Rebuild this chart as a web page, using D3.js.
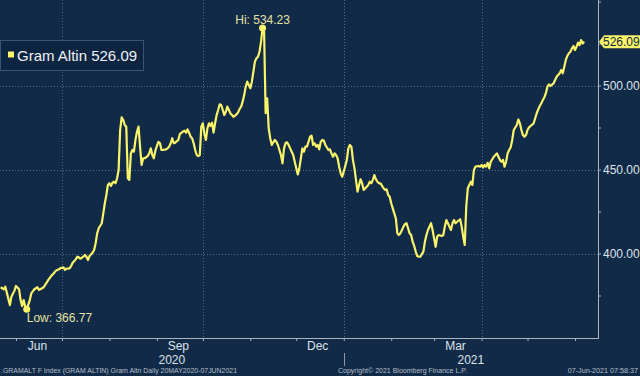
<!DOCTYPE html>
<html>
<head>
<meta charset="utf-8">
<script src="https://cdn.jsdelivr.net/npm/d3@7"></script>
<style>
  html, body { margin: 0; padding: 0; background: #112a47; }
  svg { display: block; font-family: "Liberation Sans", Arial, sans-serif; }
</style>
</head>
<body>
<svg id="chart"></svg>
<script>
// Gram Altin, daily close
const dates = [
  "2020-05-22","2020-05-24","2020-05-25","2020-05-26","2020-05-28","2020-05-29","2020-05-31",
  "2020-06-01","2020-06-03","2020-06-04","2020-06-05","2020-06-06","2020-06-07","2020-06-08","2020-06-10","2020-06-11","2020-06-13","2020-06-15","2020-06-16","2020-06-18","2020-06-19","2020-06-21","2020-06-22","2020-06-24","2020-06-26","2020-06-27","2020-06-29","2020-06-30",
  "2020-07-02","2020-07-03","2020-07-04","2020-07-06","2020-07-07","2020-07-08","2020-07-10","2020-07-11","2020-07-12","2020-07-13","2020-07-15","2020-07-16","2020-07-17","2020-07-18","2020-07-19","2020-07-21","2020-07-22","2020-07-23","2020-07-24","2020-07-25","2020-07-27","2020-07-28","2020-07-29","2020-07-30","2020-07-31",
  "2020-08-01","2020-08-02","2020-08-03","2020-08-04","2020-08-05","2020-08-06","2020-08-07","2020-08-08","2020-08-09","2020-08-10","2020-08-11","2020-08-12","2020-08-13","2020-08-14","2020-08-15","2020-08-16","2020-08-17","2020-08-18","2020-08-19","2020-08-20","2020-08-21","2020-08-22","2020-08-23","2020-08-24","2020-08-25","2020-08-26","2020-08-27","2020-08-28","2020-08-29","2020-08-30","2020-08-31",
  "2020-09-01","2020-09-02","2020-09-03","2020-09-04","2020-09-05","2020-09-07","2020-09-08","2020-09-09","2020-09-10","2020-09-11","2020-09-12","2020-09-13","2020-09-15","2020-09-16","2020-09-17","2020-09-18","2020-09-19","2020-09-20","2020-09-21","2020-09-22","2020-09-23","2020-09-24","2020-09-25","2020-09-26","2020-09-27","2020-09-28","2020-09-29","2020-09-30",
  "2020-10-01","2020-10-02","2020-10-03","2020-10-04","2020-10-05","2020-10-06","2020-10-07","2020-10-08","2020-10-09","2020-10-10","2020-10-11","2020-10-12","2020-10-13","2020-10-14","2020-10-15","2020-10-16","2020-10-17","2020-10-18","2020-10-19","2020-10-20","2020-10-21","2020-10-22","2020-10-23","2020-10-24","2020-10-25","2020-10-26","2020-10-27","2020-10-28","2020-10-29","2020-10-30","2020-10-31",
  "2020-11-01","2020-11-02","2020-11-03","2020-11-04","2020-11-05","2020-11-06","2020-11-07","2020-11-08","2020-11-09","2020-11-10","2020-11-11","2020-11-12","2020-11-13","2020-11-14","2020-11-15","2020-11-16","2020-11-17","2020-11-18","2020-11-19","2020-11-20","2020-11-21","2020-11-22","2020-11-23","2020-11-24","2020-11-25","2020-11-26","2020-11-27","2020-11-28","2020-11-29","2020-11-30",
  "2020-12-01","2020-12-02","2020-12-03","2020-12-04","2020-12-05","2020-12-06","2020-12-07","2020-12-08","2020-12-09","2020-12-10","2020-12-11","2020-12-12","2020-12-13","2020-12-14","2020-12-15","2020-12-16","2020-12-17","2020-12-18","2020-12-19","2020-12-20","2020-12-22","2020-12-23","2020-12-24","2020-12-25","2020-12-26","2020-12-27","2020-12-28","2020-12-29","2020-12-30","2020-12-31",
  "2021-01-01","2021-01-03","2021-01-04","2021-01-05","2021-01-06","2021-01-07","2021-01-08","2021-01-09","2021-01-10","2021-01-11","2021-01-12","2021-01-13","2021-01-14","2021-01-16","2021-01-17","2021-01-18","2021-01-19","2021-01-20","2021-01-21","2021-01-22","2021-01-23","2021-01-24","2021-01-25","2021-01-27","2021-01-28","2021-01-29","2021-01-30","2021-01-31",
  "2021-02-01","2021-02-02","2021-02-03","2021-02-04","2021-02-05","2021-02-06","2021-02-07","2021-02-09","2021-02-10","2021-02-11","2021-02-12","2021-02-13","2021-02-14","2021-02-15","2021-02-16","2021-02-17","2021-02-18","2021-02-19","2021-02-20","2021-02-22","2021-02-23","2021-02-24","2021-02-25","2021-02-26","2021-02-27","2021-02-28",
  "2021-03-01","2021-03-02","2021-03-03","2021-03-04","2021-03-06","2021-03-07","2021-03-08","2021-03-09","2021-03-10","2021-03-11","2021-03-12","2021-03-13","2021-03-14","2021-03-15","2021-03-16","2021-03-18","2021-03-19","2021-03-20","2021-03-21","2021-03-22","2021-03-23","2021-03-24","2021-03-25","2021-03-26","2021-03-27","2021-03-28","2021-03-30","2021-03-31",
  "2021-04-01","2021-04-02","2021-04-03","2021-04-04","2021-04-05","2021-04-06","2021-04-07","2021-04-08","2021-04-09","2021-04-11","2021-04-12","2021-04-13","2021-04-14","2021-04-15","2021-04-16","2021-04-17","2021-04-18","2021-04-19","2021-04-20","2021-04-21","2021-04-22","2021-04-24","2021-04-25","2021-04-26","2021-04-27","2021-04-28","2021-04-29","2021-04-30",
  "2021-05-01","2021-05-02","2021-05-03","2021-05-05","2021-05-06","2021-05-07","2021-05-08","2021-05-09","2021-05-10","2021-05-11","2021-05-12","2021-05-13","2021-05-14","2021-05-15","2021-05-16","2021-05-18","2021-05-19","2021-05-20","2021-05-21","2021-05-22","2021-05-23","2021-05-24","2021-05-25","2021-05-26","2021-05-27","2021-05-28","2021-05-29","2021-05-30","2021-05-31",
  "2021-06-01","2021-06-02","2021-06-03","2021-06-04","2021-06-05","2021-06-06","2021-06-07"
];
const values = [
  379.9,378.7,380.2,376.7,369.3,374.3,377.9,
  380.7,378.7,372.3,368.8,372.3,368.5,366.77,372.3,376.3,378.7,379.9,378.3,379.3,379.9,382.6,384.2,386.6,388.6,389.8,390.6,391.2,
  391.8,390.2,391.0,391.2,392.6,394.5,396.5,398.1,397.7,396.9,398.1,399.1,398.1,396.1,398.5,400.5,402.1,406.1,412.0,415.0,418.0,423.9,429.9,434.8,440.8,
  441.8,440.2,442.1,442.7,441.8,444.8,449.7,473.5,481.1,479.5,476.5,475.5,444.8,443.8,459.6,461.6,460.6,467.6,472.5,475.5,463.6,452.7,456.7,456.7,457.3,458.0,459.6,462.6,458.6,456.7,461.2,
  464.0,466.5,465.6,461.6,461.6,462.0,462.6,463.6,465.6,468.6,465.6,466.0,467.6,471.1,471.9,472.5,473.1,471.9,473.9,471.9,469.5,468.6,465.6,461.6,458.6,458.0,458.6,475.5,
  477.5,471.5,467.6,474.5,477.5,475.9,477.9,472.0,477.5,482.4,485.4,488.8,488.4,485.4,482.4,484.4,487.4,485.4,483.4,482.4,481.4,482.0,482.9,484.0,486.0,487.4,490.4,494.3,499.3,502.3,500.3,
  498.3,502.3,508.2,514.2,516.2,517.1,520.1,526.1,534.23,532.0,483.5,492.4,474.5,468.6,464.6,466.2,467.6,466.5,464.6,461.6,458.6,453.7,462.6,465.6,466.2,464.6,462.6,460.6,458.6,454.6,
  450.7,447.1,450.7,456.7,462.6,460.6,463.6,463.6,466.5,469.5,470.1,464.6,465.6,463.6,464.6,462.0,466.5,467.6,467.2,464.6,461.6,462.0,459.6,457.6,459.6,458.6,456.7,451.7,447.7,445.7,
  448.7,455.7,462.6,464.6,463.6,455.7,450.7,443.8,436.8,440.8,444.2,441.8,437.8,439.8,440.8,442.7,441.8,443.8,446.7,444.2,442.7,441.8,441.8,438.8,437.8,438.2,434.8,433.8,
  429.9,426.9,423.9,421.0,412.0,411.0,412.0,416.0,417.6,418.0,415.0,412.0,411.0,407.0,404.5,401.1,398.5,398.1,398.1,401.1,407.0,411.0,414.0,416.0,418.0,414.0,
  409.0,404.0,410.0,411.0,410.4,411.0,416.0,419.9,418.0,416.0,414.0,418.0,419.9,418.0,418.9,420.4,416.0,410.0,405.1,428.0,438.8,440.8,442.7,440.8,449.7,451.7,452.1,451.7,
  452.7,451.3,452.7,451.7,454.0,450.7,454.6,456.1,457.6,459.6,457.6,455.7,454.6,455.7,451.7,454.6,459.6,461.6,463.2,467.6,473.5,476.5,479.8,477.5,473.5,470.5,469.5,470.5,
  473.5,475.1,475.9,477.5,480.5,483.5,485.8,487.8,489.4,491.4,493.0,495.4,499.3,500.7,499.7,501.3,503.3,505.2,506.3,507.3,509.2,507.3,511.2,515.2,517.6,519.2,520.1,522.1,523.5,
  521.1,523.1,525.5,524.0,527.0,525.0,526.09
];
const seriesName = "Gram Altin";
const yMajorTicks = [400, 450, 500];
const yMinorTicks = [375, 425, 475, 525, 550];
const monthLabels = ["Jun", "Sep", "Dec", "Mar"];
const yearLabels = ["2020", "2021"];
const footerLeft = ".GRAMALT F Index (GRAM ALTIN) Gram Altn  Daily 20MAY2020-07JUN2021";
const footerMid = "Copyright\u00A9 2021 Bloomberg Finance L.P.";
const footerRight = "07-Jun-2021 07:58:37";

const width = 640, height = 376;
const plotRight = 598, plotBottom = 338;
const bg = "#112a47", yellow = "#faf468", textCol = "#dde3ea";

const parse = d3.utcParse("%Y-%m-%d");
const data = dates.map((d, i) => ({date: parse(d), value: values[i]}));
const fmt = d3.format(".2f");

const x = d3.scaleUtc()
    .domain([parse("2020-06-01"), parse("2021-06-01")])
    .range([16, 575]);
const y = d3.scaleLinear()
    .domain([350, 550])
    .range([337.5, 1.5]);

const svg = d3.select("#chart")
    .attr("width", width)
    .attr("height", height)
    .attr("viewBox", [0, 0, width, height]);

svg.append("rect").attr("width", width).attr("height", height).attr("fill", bg);

svg.append("defs").append("clipPath").attr("id", "plot")
  .append("rect").attr("width", plotRight).attr("height", plotBottom);

const months = d3.utcMonths(x.invert(0), x.invert(plotRight));
const quarters = months.filter(d => d.getUTCMonth() % 3 === 0);

// dotted grid
const grid = svg.append("g")
    .attr("stroke", "#6f87a6")
    .attr("stroke-opacity", 0.7)
    .attr("stroke-dasharray", "1,2");
grid.selectAll(".v").data(quarters).join("line")
    .attr("x1", d => Math.round(x(d)) + 0.5).attr("x2", d => Math.round(x(d)) + 0.5)
    .attr("y1", 0).attr("y2", plotBottom);
grid.selectAll(".h").data(yMajorTicks).join("line")
    .attr("x1", 0).attr("x2", plotRight)
    .attr("y1", d => Math.round(y(d)) + 0.5).attr("y2", d => Math.round(y(d)) + 0.5);

// x axis
svg.append("g")
    .attr("transform", `translate(0,${plotBottom})`)
    .call(d3.axisBottom(x).tickValues(months).tickSize(3).tickFormat(""))
    .call(g => g.select(".domain").remove())
    .call(g => g.selectAll(".tick line").attr("stroke", "#aab4c2"));
svg.append("line")
    .attr("x1", 0).attr("x2", plotRight)
    .attr("y1", plotBottom + 0.5).attr("y2", plotBottom + 0.5)
    .attr("stroke", "#aab4c2");

// month labels sit mid-month of Jun, Sep, Dec, Mar
const labelMonths = months.filter(d => d.getUTCMonth() % 3 === 2);
svg.append("g").selectAll("text")
  .data(labelMonths)
  .join("text")
    .attr("x", d => x(d3.utcDay.offset(d, 14)))
    .attr("y", 350)
    .attr("text-anchor", "middle")
    .attr("fill", textCol)
    .attr("font-size", 12)
    .text((d, i) => monthLabels[i]);

const yearStart = parse("2021-01-01");
svg.append("line")
    .attr("x1", Math.round(x(yearStart)) + 0.5).attr("x2", Math.round(x(yearStart)) + 0.5)
    .attr("y1", 353).attr("y2", 366)
    .attr("stroke", "#8d99aa");
svg.append("g").selectAll("text")
  .data([[0, x(yearStart)], [x(yearStart), plotRight]])
  .join("text")
    .attr("x", d => (d[0] + d[1]) / 2)
    .attr("y", 364)
    .attr("text-anchor", "middle")
    .attr("fill", textCol)
    .attr("font-size", 12)
    .text((d, i) => yearLabels[i]);

// right axis
svg.append("line")
    .attr("x1", plotRight + 0.5).attr("x2", plotRight + 0.5)
    .attr("y1", 0).attr("y2", plotBottom + 1)
    .attr("stroke", "#aab4c2");
svg.append("g")
    .attr("transform", `translate(${plotRight},0)`)
    .call(d3.axisRight(y).tickValues(yMinorTicks).tickSize(3).tickFormat(""))
    .call(g => g.select(".domain").remove())
    .call(g => g.selectAll(".tick line").attr("stroke", "#aab4c2"));
svg.append("g")
    .attr("transform", `translate(${plotRight},0)`)
    .call(d3.axisRight(y).tickValues(yMajorTicks).tickSize(3).tickPadding(2).tickFormat(fmt))
    .call(g => g.select(".domain").remove())
    .call(g => g.selectAll(".tick line").attr("stroke", "#aab4c2"))
    .call(g => g.selectAll(".tick text")
        .attr("fill", textCol)
        .attr("font-size", 12)
        .attr("font-family", "Liberation Sans, Arial, sans-serif"));

// series line
const line = d3.line()
    .x(d => x(d.date))
    .y(d => y(d.value));
svg.append("path")
    .datum(data)
    .attr("clip-path", "url(#plot)")
    .attr("fill", "none")
    .attr("stroke", yellow)
    .attr("stroke-width", 2.2)
    .attr("stroke-linejoin", "round")
    .attr("d", line);

// hi / low markers
const hi = data[d3.maxIndex(data, d => d.value)];
const lo = data[d3.minIndex(data, d => d.value)];
svg.append("g").selectAll("circle")
  .data([hi, lo])
  .join("circle")
    .attr("cx", d => x(d.date))
    .attr("cy", d => y(d.value))
    .attr("r", 3.5)
    .attr("fill", yellow);
svg.append("text")
    .attr("x", x(hi.date))
    .attr("y", y(hi.value) - 4)
    .attr("text-anchor", "middle")
    .attr("fill", "#e6e2a4")
    .attr("font-size", 12)
    .text(`Hi: ${fmt(hi.value)}`);
svg.append("text")
    .attr("x", x(lo.date))
    .attr("y", y(lo.value) + 13)
    .attr("fill", "#e6e2a4")
    .attr("font-size", 12)
    .text(`Low: ${fmt(lo.value)}`);

// last value tag on the axis
const last = data[data.length - 1];
const tag = svg.append("g").attr("transform", `translate(${plotRight + 1},${y(last.value)})`);
tag.append("path")
    .attr("d", "M0,0L5,-6.5L41,-6.5L41,6.5L5,6.5Z")
    .attr("fill", yellow);
tag.append("text")
    .attr("x", 4)
    .attr("dy", "0.36em")
    .attr("fill", bg)
    .attr("font-size", 12)
    .text(fmt(last.value));

// legend
const legend = svg.append("g");
legend.append("rect")
    .attr("x", 0.5).attr("y", 40.5)
    .attr("width", 143).attr("height", 30)
    .attr("fill", "#0e2541")
    .attr("stroke", "#3a5574");
legend.append("rect")
    .attr("x", 8).attr("y", 51.5)
    .attr("width", 6).attr("height", 6)
    .attr("fill", yellow);
legend.append("text")
    .attr("x", 17).attr("y", 61)
    .attr("fill", "#eef1f5")
    .attr("font-size", 15)
    .text(`${seriesName} ${fmt(last.value)}`);

// footer
const foot = svg.append("g")
    .attr("fill", "#b6bfcb")
    .attr("font-size", 8);
foot.append("text").attr("x", 1).attr("y", 373)
    .attr("textLength", 236).attr("lengthAdjust", "spacingAndGlyphs").text(footerLeft);
foot.append("text").attr("x", 338).attr("y", 373)
    .attr("textLength", 129).attr("lengthAdjust", "spacingAndGlyphs").text(footerMid);
foot.append("text").attr("x", 638).attr("y", 373)
    .attr("text-anchor", "end")
    .attr("font-size", 7.2)
    .text(footerRight);
</script>
</body>
</html>
